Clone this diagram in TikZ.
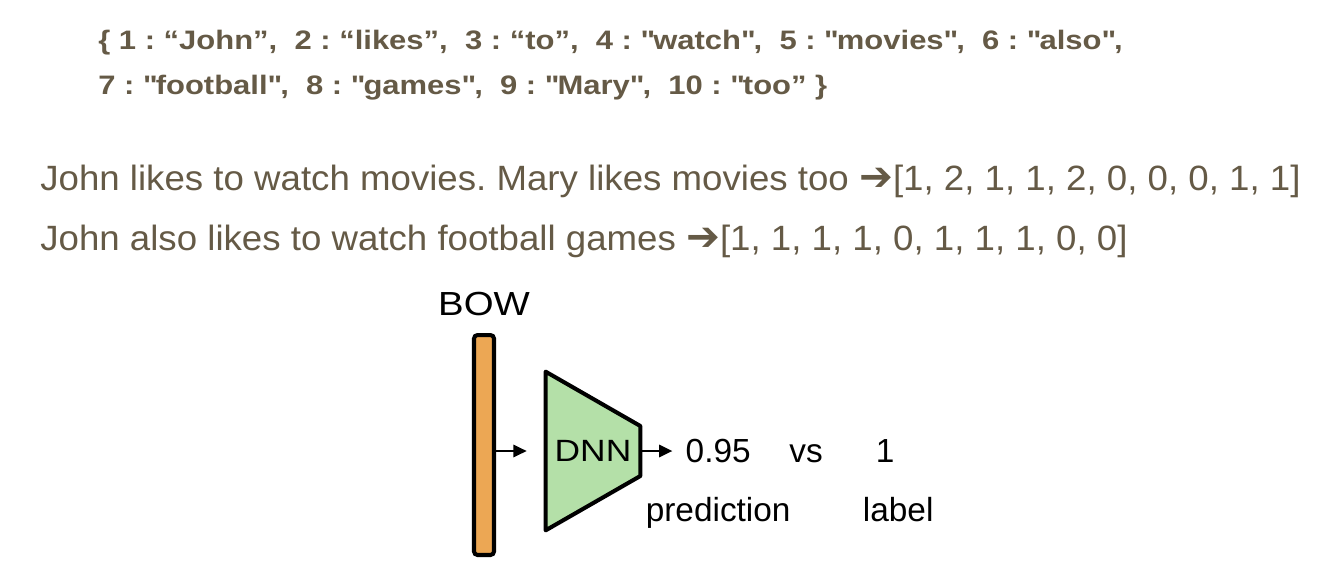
\documentclass[tikz,border=0pt]{standalone}
\usepackage{fontspec}
\setmainfont{Liberation Sans}
\newfontfamily\arrowfont{DejaVu Sans}
\newfontfamily\dictfont{Liberation Sans}[FakeStretch=1.16]
\newfontfamily\sentfont{Liberation Sans}[FakeStretch=1.043]
\newfontfamily\widefont{Liberation Sans}[FakeStretch=1.15]
\usepackage{tikz}
\usetikzlibrary{arrows.meta,positioning,backgrounds}
\definecolor{textbrown}{RGB}{101,90,70}
\definecolor{boworange}{RGB}{236,167,84}
\definecolor{dnngreen}{RGB}{180,224,168}
\newcommand{\toarrow}{{\arrowfont\bfseries\fontsize{23}{24}\selectfont ➔}}
\newcommand{\dq}{\textquotedbl}
\frenchspacing

\begin{document}
\begin{tikzpicture}[x=0.02cm,y=-0.02cm,>={Triangle[length=7.5pt,width=7pt]},
		sent/.style={font=\sentfont\fontsize{20}{24}\selectfont,text=textbrown,inner sep=0,anchor=base west},
		dict/.style={font=\dictfont\bfseries\fontsize{15.2}{18}\selectfont,text=textbrown,inner sep=0,anchor=base west},
		lbl/.style={font=\fontsize{19}{23}\selectfont,inner sep=0},
		bowbar/.style={draw,line width=2.3pt,fill=boworange,rounded corners=2pt,minimum width=0.4cm,minimum height=4.4cm,inner sep=0},
		dnnbox/.style={minimum width=1.88cm,minimum height=3.16cm,inner sep=0,font=\widefont\fontsize{17.5}{20}\selectfont},
		flow/.style={->,line width=1.1pt}]
		\useasboundingbox (0,0) rectangle (1324,568);
		% vocabulary
		\node[dict] (dict1) at (98,49) {\{ 1 : “John”, \ 2 : “likes”, \ 3 : “to”, \ 4 : \dq watch\dq, \ 5 : \dq movies\dq, \ 6 : \dq also\dq,};
		\node[dict] (dict2) at (98,94) {7 : \dq football\dq, \ 8 : \dq games\dq, \ 9 : \dq Mary\dq, \ 10 : \dq too” \}};
		% sentences
		\node[sent] (sent1) at (40,190) {John likes to watch movies. Mary likes movies too \toarrow[1, 2, 1, 1, 2, 0, 0, 0, 1, 1]};
		\node[sent] (sent2) at (40,250) {John also likes to watch football games \toarrow[1, 1, 1, 1, 0, 1, 1, 1, 0, 0]};
		% classifier
		\node[bowbar] (bar) at (484,445) {};
		\node[lbl,font=\widefont\fontsize{19}{23}\selectfont,above=0.34cm of bar] (bow) {BOW};
		\node[dnnbox] (dnn) at (593,451) {DNN};
		\begin{scope}[on background layer]
			\draw[line width=2.3pt,fill=dnngreen,line join=round] (dnn.north west) -- ([yshift=0.5cm]dnn.east) -- ([yshift=-0.5cm]dnn.east) -- (dnn.south west) -- cycle;
		\end{scope}
		\node[lbl,right=0.9cm of dnn] (pred) {0.95};
		\node[lbl,right=0.76cm of pred.base east,anchor=base west] (vs) {vs};
		\node[lbl,right=1.05cm of vs.base east,anchor=base west] (one) {1};
		\node[lbl,anchor=base] (predtxt) at ([yshift=-1.18cm]pred.base) {prediction};
		\node[lbl,anchor=base] (labeltxt) at ([xshift=0.26cm,yshift=-1.18cm]one.base) {label};
		\path[flow]
			(bar.east |- dnn.west) edge[shorten >=0.38cm] (dnn.west)
			(dnn.east) edge[shorten >=0.26cm] (pred.west);
	\end{tikzpicture}
\end{document}
